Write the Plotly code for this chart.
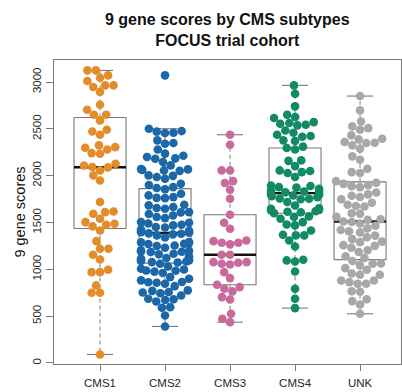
import math
import numpy as np
import plotly.graph_objects as go

# ---- data: 9 gene scores per consensus molecular subtype ----
categories = ["CMS1", "CMS2", "CMS3", "CMS4", "UNK"]

cms1_scores = [
    3124, 3124, 3071, 3046, 3010, 2964, 2964, 2946, 2893,
    2757, 2704, 2651, 2651, 2590, 2490, 2472, 2437,
    2323, 2305, 2298, 2280, 2241, 2234, 2127, 2109, 2092, 2088,
    2056, 2003, 1949, 1718, 1618, 1611, 1593, 1540, 1504, 1486,
    1476, 1458, 1415, 1301, 1220, 1220, 1155, 1105, 995, 970,
    970, 828, 749, 749, 91,
]

cms2_scores = [
    3071, 2501, 2458, 2455, 2476, 2470, 2377, 2348, 2341, 2280,
    2235, 2212, 2199, 2185, 2181, 2145, 2110, 2067, 2062, 2056,
    2070, 2051, 2003, 1998, 1985, 1967, 1914, 1900, 1878, 1868,
    1855, 1807, 1789, 1771, 1763, 1760, 1690, 1683, 1665, 1654,
    1647, 1611, 1608, 1590, 1575, 1558, 1547, 1504, 1497, 1490,
    1476, 1469, 1451, 1446, 1412, 1398, 1404, 1391, 1425, 1395,
    1384, 1380, 1373, 1362, 1340, 1291, 1288, 1273, 1270, 1255,
    1249, 1280, 1231, 1202, 1198, 1191, 1187, 1166, 1184, 1160,
    1140, 1113, 1109, 1095, 1102, 1084, 1077, 1090, 1120, 1072,
    1060, 1030, 1006, 998, 988, 985, 975, 960, 917, 900,
    882, 864, 862, 857, 846, 820, 775, 770, 757, 752,
    745, 720, 685, 680, 672, 657, 596, 590, 507, 390,
]

cms3_scores = [
    2437, 2330, 2056, 2056, 1942, 1921, 1850, 1753, 1583, 1497,
    1433, 1308, 1283, 1266, 1283, 1301, 1155, 1155, 1077, 1059,
    1052, 1077, 1070, 970, 906, 810, 764, 792, 835, 678,
    703, 525, 472, 436,
]

cms4_scores = [
    2964, 2875, 2740, 2651, 2615, 2626, 2572, 2554, 2537, 2544,
    2562, 2483, 2437, 2423, 2416, 2377, 2370, 2458, 2310, 2295,
    2280, 2163, 2158, 2102, 2056, 2050, 2038, 2028, 1985, 1895,
    1889, 1878, 1872, 1860, 1842, 1838, 1830, 1822, 1814, 1807,
    1800, 1789, 1795, 1781, 1753, 1756, 1748, 1771, 1718, 1682,
    1647, 1652, 1629, 1633, 1620, 1615, 1610, 1598, 1565, 1558,
    1540, 1504, 1479, 1469, 1415, 1369, 1362, 1362, 1308, 1244,
    1102, 1095, 1084, 977, 792, 685, 586,
]

unk_scores = [
    2850, 2697, 2579, 2508, 2490, 2526, 2430, 2394, 2387, 2359,
    2348, 2288, 2323, 2352, 2170, 2206, 2074, 2028, 2038, 1942,
    1925, 1899, 1888, 1878, 1912, 1820, 1785, 1800, 1772, 1748,
    1710, 1676, 1690, 1598, 1670, 1593, 1560, 1535, 1528, 1511,
    1506, 1490, 1465, 1420, 1437, 1394, 1405, 1360, 1342, 1322,
    1296, 1290, 1258, 1250, 1185, 1230, 1203, 1140, 1120, 1088,
    1060, 1045, 1013, 995, 1063, 942, 955, 942, 880, 846,
    863, 846, 880, 760, 765, 680, 660, 625, 525,
]

groups = [cms1_scores, cms2_scores, cms3_scores, cms4_scores, unk_scores]
colors = ["#E38D2A", "#1B67A8", "#C96A9C", "#128A66", "#A8A8A8"]
y_ticks = [0, 500, 1000, 1500, 2000, 2500, 3000]
title_lines = ["9 gene scores by CMS subtypes", "FOCUS trial cohort"]

# ---- layout geometry ----
W, H = 402, 392
M_L, M_R, M_T, M_B = 54, 1, 60, 28
X_RANGE = [-0.708, 4.63]
Y_RANGE = [-11, 3235]
px_per_x = (W - M_L - M_R) / (X_RANGE[1] - X_RANGE[0])
px_per_y = (H - M_T - M_B) / (Y_RANGE[1] - Y_RANGE[0])

BOX_HALF = 0.4
CAP_HALF = 0.2
DOT = 8.6          # marker diameter, px
SPACING = 8.4      # swarm spacing, px
CORRAL = 24.0      # max horizontal offset, px
FONT = "Liberation Sans, Arial, sans-serif"


def fivenum(v):
    s = np.sort(np.asarray(v, dtype=float))
    n = len(s)
    n4 = math.floor((n + 3) / 2) / 2
    idx = np.array([1, n4, (n + 1) / 2, n + 1 - n4, n]) - 1
    return 0.5 * (s[np.floor(idx).astype(int)] + s[np.ceil(idx).astype(int)])


def box_stats(v):
    s = np.sort(np.asarray(v, dtype=float))
    _, q1, med, q3, _ = fivenum(s)
    iqr = q3 - q1
    lo = s[s >= q1 - 1.5 * iqr].min()
    hi = s[s <= q3 + 1.5 * iqr].max()
    return lo, q1, med, q3, hi


def swarm_offsets(vals):
    """Beeswarm placement (ascending priority) in pixel space, gutter corral."""
    ys = np.asarray(vals, dtype=float) * px_per_y
    xs = np.zeros(len(ys))
    placed = []
    for i in np.argsort(ys, kind="stable"):
        y = ys[i]
        cands = [0.0]
        for j in placed:
            dy = y - ys[j]
            if abs(dy) < SPACING:
                dx = math.sqrt(SPACING ** 2 - dy ** 2)
                cands += [xs[j] + dx, xs[j] - dx]
        cands.sort(key=lambda c: (round(abs(c), 6), c))
        chosen = cands[-1]
        for c in cands:
            if all((c - xs[j]) ** 2 + (y - ys[j]) ** 2 >= SPACING ** 2 - 1e-6 for j in placed):
                chosen = c
                break
        xs[i] = max(-CORRAL, min(CORRAL, chosen))
        placed.append(i)
    return xs / px_per_x


fig = go.Figure()

# ---- boxes (drawn beneath the points) ----
bx, by, mx, my, wx, wy, cx, cy = [], [], [], [], [], [], [], []
for k, vals in enumerate(groups):
    lo, q1, med, q3, hi = box_stats(vals)
    bx += [k - BOX_HALF, k + BOX_HALF, k + BOX_HALF, k - BOX_HALF, k - BOX_HALF, None]
    by += [q1, q1, q3, q3, q1, None]
    mx += [k - BOX_HALF, k + BOX_HALF, None]
    my += [med, med, None]
    wx += [k, k, None, k, k, None]
    wy += [q3, hi, None, q1, lo, None]
    cx += [k - CAP_HALF, k + CAP_HALF, None, k - CAP_HALF, k + CAP_HALF, None]
    cy += [hi, hi, None, lo, lo, None]

fig.add_trace(go.Scatter(x=wx, y=wy, mode="lines", hoverinfo="skip",
                         line=dict(color="#8a8a8a", width=1.1, dash="4px,3px")))
fig.add_trace(go.Scatter(x=cx, y=cy, mode="lines", hoverinfo="skip",
                         line=dict(color="#7a7a7a", width=1.1)))
fig.add_trace(go.Scatter(x=bx, y=by, mode="lines", hoverinfo="skip",
                         line=dict(color="#7a7a7a", width=1.1)))
fig.add_trace(go.Scatter(x=mx, y=my, mode="lines", hoverinfo="skip",
                         line=dict(color="#111111", width=2.4)))

# ---- beeswarm points ----
for k, (name, vals, col) in enumerate(zip(categories, groups, colors)):
    off = swarm_offsets(vals)
    fig.add_trace(go.Scatter(
        x=k + off, y=vals, mode="markers", name=name,
        marker=dict(color=col, size=DOT, line=dict(width=0)),
    ))

axis_font = dict(family=FONT, size=11.5, color="#262626")

# two-line bold title centred over the plotting region
fig.add_annotation(
    text="<b>" + "<br>".join(title_lines) + "</b>",
    xref="paper", yref="paper", x=0.5, y=1, xanchor="center", yanchor="bottom",
    yshift=9, showarrow=False, align="center",
    font=dict(family=FONT, size=16, color="#111111"),
)

fig.update_layout(
    width=W, height=H,
    margin=dict(l=M_L, r=M_R, t=M_T, b=M_B),
    paper_bgcolor="white", plot_bgcolor="white",
    showlegend=False,
    xaxis=dict(
        range=X_RANGE, tickvals=list(range(len(categories))), ticktext=categories,
        showgrid=False, zeroline=False, showline=True, mirror=True,
        linecolor="#7a7a7a", linewidth=1, ticks="outside", ticklen=6,
        tickcolor="#7a7a7a", tickfont=axis_font, ticklabelstandoff=2,
    ),
    yaxis=dict(
        range=Y_RANGE, tickvals=y_ticks, tickangle=-90,
        showgrid=False, zeroline=False, showline=True, mirror=True,
        linecolor="#7a7a7a", linewidth=1, ticks="outside", ticklen=7,
        tickcolor="#7a7a7a", tickfont=axis_font,
        title=dict(text="9 gene scores", standoff=2,
                   font=dict(family=FONT, size=14.5, color="#111111")),
    ),
)

fig.write_html("out.html")
